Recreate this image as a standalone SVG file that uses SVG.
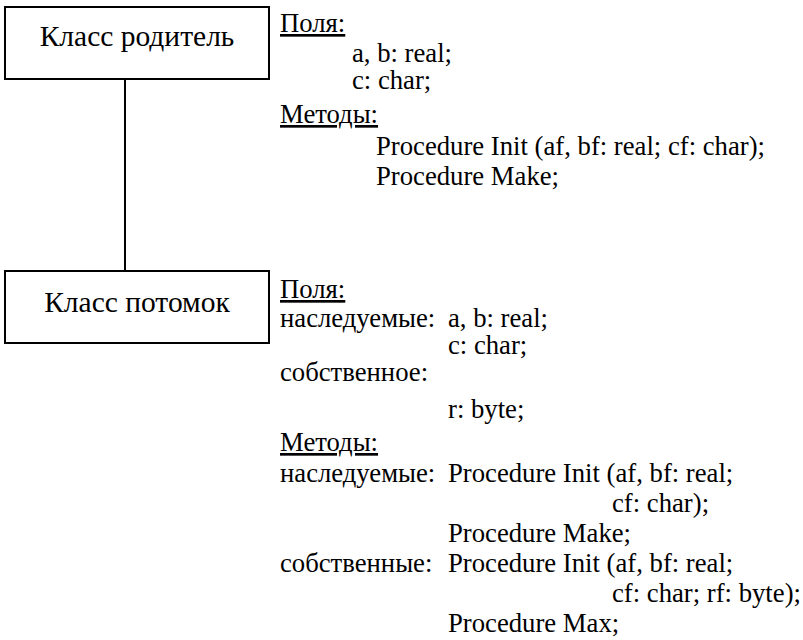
<svg xmlns="http://www.w3.org/2000/svg" width="803" height="640" viewBox="0 0 803 640">
<style>
text{font-family:"Liberation Serif","Times New Roman",serif;font-size:26.7px;fill:#000}
.box{fill:#fff;stroke:#000;stroke-width:2}
.u{text-decoration:underline}
.c{text-anchor:middle;font-size:29.5px}
</style>
<rect width="803" height="640" fill="#fff"/>
<g id="connectors">
<line x1="125" y1="79" x2="125" y2="271" stroke="#000" stroke-width="2"/>
</g>
<g id="parent">
<rect class="box" x="5" y="7" width="264" height="72"/>
<text class="c" x="137" y="46">Класс родитель</text>
</g>
<g id="child">
<rect class="box" x="5" y="271" width="264" height="72"/>
<text class="c" x="137" y="312">Класс потомок</text>
</g>
<g id="parent-members">
<text class="u" x="280" y="32">Поля:</text>
<text x="352" y="62">a, b: real;</text>
<text x="352" y="89">c: char;</text>
<text class="u" x="280" y="123">Методы:</text>
<text x="376" y="155">Procedure Init (af, bf: real; cf: char);</text>
<text x="376" y="185">Procedure Make;</text>
</g>
<g id="child-members">
<text class="u" x="280" y="298">Поля:</text>
<text x="280" y="327">наследуемые:</text>
<text x="448" y="327">a, b: real;</text>
<text x="448" y="354">c: char;</text>
<text x="280" y="381">собственное:</text>
<text x="448" y="418">r: byte;</text>
<text class="u" x="280" y="451">Методы:</text>
<text x="280" y="482">наследуемые:</text>
<text x="448" y="482">Procedure Init (af, bf: real;</text>
<text x="612" y="512">cf: char);</text>
<text x="448" y="542">Procedure Make;</text>
<text x="280" y="572">собственные:</text>
<text x="448" y="572">Procedure Init (af, bf: real;</text>
<text x="612" y="602">cf: char; rf: byte);</text>
<text x="448" y="632">Procedure Max;</text>
</g>
</svg>
